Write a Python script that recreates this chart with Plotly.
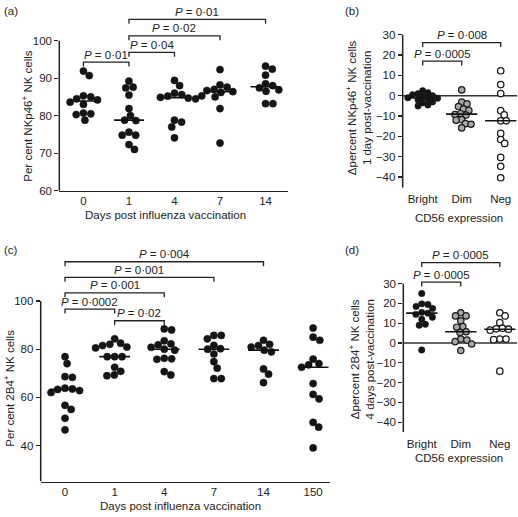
import numpy as np
import plotly.graph_objects as go

W, H = 518, 517

# ---------------- data ----------------
days_a = ["0", "1", "4", "7", "14"]
nkp46_day0 = [91.9, 90.7, 85.3, 85.0, 84.5, 84.2, 83.6, 83.0, 80.7, 80.5, 80.3, 78.8]
nkp46_day1 = [89.2, 87.6, 87.4, 85.5, 81.9, 80.0, 78.8, 78.7, 75.6, 74.8, 74.8, 72.3, 71.0]
nkp46_day4 = [89.4, 88.0, 86.0, 85.6, 85.2, 84.9, 84.7, 84.5, 78.8, 78.3, 77.0, 74.1]
nkp46_day7 = [92.3, 88.2, 87.6, 87.0, 86.7, 86.4, 86.2, 85.3, 85.0, 81.9, 72.7]
nkp46_day14 = [93.2, 92.4, 90.8, 88.5, 88.0, 87.4, 86.9, 86.5, 83.2, 83.2]

cd56_groups = ["Bright", "Dim", "Neg"]
d_nkp46_bright = [2.5, 1.5, 1.0, 0.5, 0.0, -0.5, -1.0, -1.2, -1.5, -2.0, -3.0, -3.5, -4.5, -5.0]
d_nkp46_dim = [2.9, -3.1, -4.0, -5.3, -6.5, -7.2, -8.8, -9.2, -9.5, -11.7, -12.0, -13.7, -14.0, -15.8]
d_nkp46_neg = [12.3, 5.5, 1.1, -7.3, -9.4, -12.3, -12.3, -18.5, -21.5, -23.4, -30.3, -34.7, -40.3]

days_c = ["0", "1", "4", "7", "14", "150"]
b4_day0 = [76.9, 74.0, 68.6, 68.3, 63.8, 63.5, 63.3, 62.8, 62.0, 56.7, 55.0, 51.3, 46.5]
b4_day1 = [84.3, 82.5, 82.0, 81.5, 80.9, 80.5, 76.9, 76.9, 76.9, 72.5, 70.8, 69.3, 69.0]
b4_day4 = [88.4, 88.0, 83.5, 82.2, 81.8, 80.8, 80.0, 79.6, 76.2, 76.0, 75.8, 70.7, 69.3]
b4_day7 = [85.7, 85.7, 84.3, 81.6, 80.2, 80.0, 78.0, 74.8, 72.1, 67.8, 67.8]
b4_day14 = [83.7, 82.0, 81.5, 80.9, 79.6, 78.9, 71.8, 69.6, 66.1]
b4_day150 = [88.8, 85.0, 83.7, 75.9, 74.0, 73.5, 72.5, 65.7, 61.2, 59.4, 49.6, 47.6, 39.0]

d_2b4_bright = [25.0, 19.8, 19.5, 18.5, 17.5, 15.5, 15.1, 14.5, 13.0, 12.0, 9.5, 9.0, -3.5]
d_2b4_dim = [15.3, 13.7, 13.7, 11.2, 8.3, 8.0, 5.7, 5.3, 2.0, 1.5, 0.7, -0.5, -3.8]
d_2b4_neg = [15.3, 13.7, 10.3, 7.5, 7.2, 7.0, 6.5, 2.0, 2.0, 1.7, -14.2]

# comparisons: (group i, group j, p-value text)
cmp_a = [(0, 1, "0·01"), (1, 2, "0·04"), (1, 3, "0·02"), (1, 4, "0·01")]
cmp_b = [(0, 2, "0·008"), (0, 1, "0·0005")]
cmp_c = [(0, 1, "0·0002"), (1, 2, "0·02"), (0, 2, "0·001"), (0, 3, "0·001"), (0, 4, "0·004")]
cmp_d = [(0, 2, "0·0005"), (0, 1, "0·0005")]

# ---------------- layout geometry (pixels) ----------------
FONT = "Liberation Sans, Arial, sans-serif"
TXT = "#222222"
FS = 11.5

panels = {
    "a": dict(ax="", xpx=(59.3, 288.3), ypx=(9.7, 191.0), xr=[-0.53, 4.5], yr=[60, 107.5],
              yaxis_top=100, ticks=[60, 70, 80, 90, 100], cats=days_a,
              groups=[nkp46_day0, nkp46_day1, nkp46_day4, nkp46_day7, nkp46_day14],
              styles=["filled"] * 5, half=0.33, msize=7.2, sep=7.4,
              cmp=cmp_a, levels=[94.3, 96.9, 101.3, 105.7], xline=True, zero=False),
    "b": dict(ax="2", xpx=(402.7, 517.0), ypx=(29.0, 188.0), xr=[-0.513, 2.418], yr=[-45.2, 31.6],
              yaxis_top=30, ticks=[-40, -30, -20, -10, 0, 10, 20, 30], cats=cd56_groups,
              groups=[d_nkp46_bright, d_nkp46_dim, d_nkp46_neg],
              styles=["filled", "gray", "open"], half=0.4, msize=6.4, sep=5.6,
              cmp=cmp_b, levels=[26.1, 17.0], xline=False, zero=True),
    "c": dict(ax="3", xpx=(40.7, 330.0), ypx=(256.0, 487.1), xr=[-0.49, 5.34], yr=[25, 119.3],
              yaxis_top=100, ticks=[40, 60, 80, 100], cats=days_c,
              groups=[b4_day0, b4_day1, b4_day4, b4_day7, b4_day14, b4_day150],
              styles=["filled"] * 6, half=0.31, msize=7.2, sep=7.4,
              cmp=cmp_c, levels=[96.6, 91.8, 103.4, 109.8, 116.3], xline=True, zero=False),
    "d": dict(ax="4", xpx=(403.3, 517.0), ypx=(253.0, 436.7), xr=[-0.472, 2.44], yr=[-45.0, 46.2],
              yaxis_top=30, ticks=[-40, -30, -20, -10, 0, 10, 20, 30], cats=cd56_groups,
              groups=[d_2b4_bright, d_2b4_dim, d_2b4_neg],
              styles=["filled", "gray", "open"], half=0.4, msize=6.4, sep=6.2,
              cmp=cmp_d, levels=[40.6, 30.8], xline=False, zero=True),
}

marker_styles = {
    "filled": dict(color="#151515", line=dict(color="#151515", width=0.5)),
    "gray": dict(color="#a8a8a8", line=dict(color="#1a1a1a", width=1.2)),
    "open": dict(color="white", line=dict(color="#1a1a1a", width=1.3)),
}


def swarm(values, ppu_y, ppc_x, d):
    vals = np.asarray(values, float)
    order = np.argsort(-vals, kind="stable")
    placed = []
    xs = np.zeros(len(vals))
    for i in order:
        y = vals[i] * ppu_y
        cands = [0.0]
        for px, py in placed:
            dy = abs(py - y)
            if dy < d:
                dx = np.sqrt(d * d - dy * dy)
                cands += [px + dx, px - dx]
        cands = sorted(cands, key=lambda c: (round(abs(c), 6), -c))
        for c in cands:
            if all((c - px) ** 2 + (y - py) ** 2 >= d * d - 1e-6 for px, py in placed):
                xs[i] = c
                placed.append((c, y))
                break
    return xs / ppc_x


fig = go.Figure()
shapes = []
annotations = []

for key, p in panels.items():
    ax = p["ax"]
    xa, ya = "x" + ax, "y" + ax
    wpx = p["xpx"][1] - p["xpx"][0]
    hpx = p["ypx"][1] - p["ypx"][0]
    ppc = wpx / (p["xr"][1] - p["xr"][0])
    ppu = hpx / (p["yr"][1] - p["yr"][0])

    fig.layout["xaxis" + ax] = dict(
        domain=[p["xpx"][0] / W, p["xpx"][1] / W], range=p["xr"], anchor=ya,
        tickvals=list(range(len(p["cats"]))), ticktext=p["cats"],
        showgrid=False, zeroline=False, ticks="",
        showline=p["xline"], linecolor="#222", linewidth=1.5,
        tickfont=dict(family=FONT, size=FS, color=TXT),
        ticklabelstandoff=-1 if p["xline"] else 3,
    )
    fig.layout["yaxis" + ax] = dict(
        domain=[1 - p["ypx"][1] / H, 1 - p["ypx"][0] / H], range=p["yr"], anchor=xa,
        tickvals=p["ticks"], showgrid=False, zeroline=False, showline=False,
        ticks="outside", ticklen=4, tickwidth=1.3, tickcolor="#222",
        tickfont=dict(family=FONT, size=FS, color=TXT),
    )

    # y axis line (only up to top tick)
    shapes.append(dict(type="line", xref=xa + " domain", yref=ya, x0=0, x1=0,
                       y0=p["yr"][0], y1=p["yaxis_top"], layer="below",
                       line=dict(color="#222", width=1.5)))
    if p["zero"]:
        shapes.append(dict(type="line", xref=xa + " domain", yref=ya, x0=0, x1=1,
                           y0=0, y1=0, layer="below", line=dict(color="#333", width=1.5)))

    for gi, (vals, st) in enumerate(zip(p["groups"], p["styles"])):
        offs = swarm(vals, ppu, ppc, p["sep"])
        fig.add_trace(go.Scatter(
            x=gi + offs, y=vals, mode="markers", xaxis=xa, yaxis=ya, showlegend=False,
            marker=dict(size=p["msize"], **marker_styles[st]), cliponaxis=False,
            hoverinfo="skip",
        ))
        med = float(np.median(vals))
        fig.add_trace(go.Scatter(
            x=[gi - p["half"], gi + p["half"]], y=[med, med], mode="lines",
            xaxis=xa, yaxis=ya, showlegend=False, line=dict(color="#111", width=1.6),
            hoverinfo="skip",
        ))

    drop = 4.5 / ppu
    for (i, j, ptxt), lev in zip(p["cmp"], p["levels"]):
        shapes.append(dict(type="path", xref=xa, yref=ya,
                           path=f"M {i},{lev - drop} L {i},{lev} L {j},{lev} L {j},{lev - drop}",
                           line=dict(color="#222", width=1.3)))
        annotations.append(dict(xref=xa, yref=ya, x=(i + j) / 2, y=lev, yshift=7.5,
                                text=f"<i>P</i> = {ptxt}", showarrow=False,
                                xanchor="center", yanchor="middle",
                                font=dict(family=FONT, size=FS, color=TXT)))


def ann(x, y, text, angle=0, size=FS):
    annotations.append(dict(xref="paper", yref="paper", x=x / W, y=1 - y / H, text=text,
                            showarrow=False, textangle=angle, xanchor="center",
                            yanchor="middle", font=dict(family=FONT, size=size, color=TXT)))


# panel letters
ann(11, 8, "(a)")
ann(352, 8, "(b)")
ann(11, 251, "(c)")
ann(352, 251, "(d)")

# axis titles
ann(165.2, 216, "Days post influenza vaccination")
ann(26.7, 115, "Per cent NKp46<sup>+</sup> NK cells", -90)
ann(459, 218.5, "CD56 expression")
ann(358, 107, "Δpercent NKp46<sup>+</sup> NK cells<br>1 day post-vaccination", -90)
ann(180.8, 511.5, "Days post influenza vaccination")
ann(9.5, 392, "Per cent 2B4<sup>+</sup> NK cells", -90)
ann(458.5, 463.5, "CD56 expression")
ann(361.7, 363, "Δpercent 2B4<sup>+</sup> NK cells<br>4 days post-vaccination", -90)

fig.update_layout(
    width=W, height=H, autosize=False,
    margin=dict(l=0, r=0, t=0, b=0, pad=0),
    paper_bgcolor="white", plot_bgcolor="white",
    shapes=shapes, annotations=annotations, hovermode=False,
    font=dict(family=FONT, size=FS, color=TXT),
)

fig.write_html(
    "out.html",
    config={"displayModeBar": False, "staticPlot": True},
    post_script="document.body.style.margin='0';document.body.style.padding='0';"
                "document.documentElement.style.overflow='hidden';",
)
